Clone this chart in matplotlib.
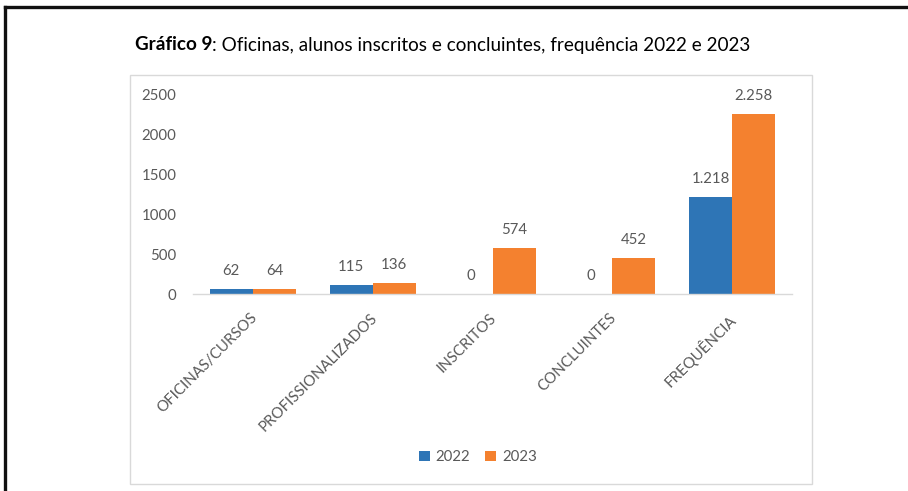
import matplotlib.pyplot as plt
from matplotlib.patches import Rectangle, Patch
from matplotlib.lines import Line2D
import numpy as np

plt.rcParams['font.family'] = ['Lato', 'DejaVu Sans']

# data
categories = ['OFICINAS/CURSOS', 'PROFISSIONALIZADOS', 'INSCRITOS', 'CONCLUINTES', 'FREQUÊNCIA']
vals_2022 = [62, 115, 0, 0, 1218]
vals_2023 = [64, 136, 574, 452, 2258]
years = ['2022', '2023']

colors = {'2022': '#2E75B6', '2023': '#F4812F'}
gray = '#595959'

W, H = 908, 491
fig = plt.figure(figsize=(W / 100, H / 100), dpi=100)

def fx(px):
    return px / W

def fy(py):
    return 1 - py / H

# outer black frame (top + left)
fig.add_artist(Line2D([fx(5), 1], [fy(7), fy(7)], color='#111111', lw=2.4))
fig.add_artist(Line2D([fx(5), fx(5)], [fy(7), 0], color='#111111', lw=2.4))

# chart box
fig.add_artist(Rectangle((fx(130), fy(484)), fx(812) - fx(130), fy(75) - fy(484),
                         transform=fig.transFigure, fill=False,
                         edgecolor='#D9D9D9', lw=1.0))

# title: bold part then the rest
t1 = fig.text(fx(135), fy(45), 'Gráfico 9', fontsize=13.6, weight='bold',
              ha='left', va='center', color='black')
fig.add_artist(plt.Annotation(
    ': Oficinas, alunos inscritos e concluintes, frequência 2022 e 2023',
    xy=(1, 0), xycoords=t1, va='bottom', ha='left', fontsize=13.6, color='black'))

ax = fig.add_axes([fx(193), fy(294), fx(792) - fx(193), fy(95) - fy(294)])

x = np.arange(len(categories))
w = 0.36
b1 = ax.bar(x - w / 2, vals_2022, w, color=colors['2022'], label='2022')
b2 = ax.bar(x + w / 2, vals_2023, w, color=colors['2023'], label='2023')

def fmt(v):
    return f'{v:,}'.replace(',', '.')

for bars, vals in [(b1, vals_2022), (b2, vals_2023)]:
    for rect, v in zip(bars, vals):
        ax.annotate(fmt(v), xy=(rect.get_x() + rect.get_width() / 2, v),
                    xytext=(0, 13), textcoords='offset points',
                    ha='center', va='center', fontsize=10.8, color=gray)

ax.set_xlim(-0.5, len(categories) - 0.5)
ax.set_ylim(0, 2500)
ax.set_yticks([0, 500, 1000, 1500, 2000, 2500])
ax.tick_params(axis='y', length=0, pad=12, labelsize=10.8, labelcolor=gray)
ax.tick_params(axis='x', length=0)
ax.set_xticks(x)
ax.set_xticklabels([])
for s in ['top', 'right', 'left']:
    ax.spines[s].set_visible(False)
ax.spines['bottom'].set_color('#D9D9D9')
ax.spines['bottom'].set_linewidth(1.0)

for xi, cat in zip(x, categories):
    ax.annotate(cat, xy=(xi, 0), xycoords=('data', 'axes fraction'),
                xytext=(5, -12), textcoords='offset points',
                rotation=45, ha='right', va='top', fontsize=10.8, color=gray)

handles = [Patch(facecolor=colors[y], label=y) for y in years]
fig.legend(handles=handles, loc='center', bbox_to_anchor=(fx(478), fy(457)),
           ncol=2, frameon=False, fontsize=10.8, labelcolor=gray,
           handlelength=0.7, handleheight=0.7, handletextpad=0.4,
           columnspacing=1.0)

fig.savefig('out.png', dpi=100)
